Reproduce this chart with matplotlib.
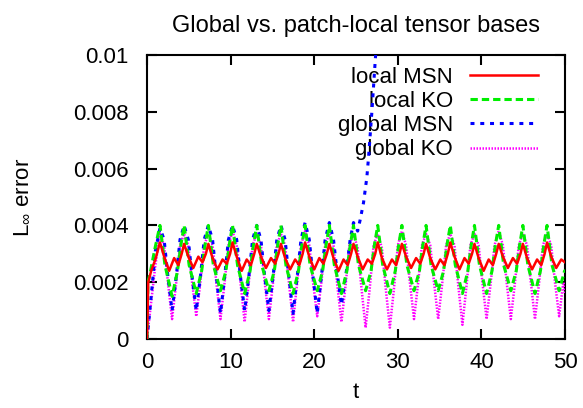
import matplotlib
matplotlib.use("Agg")
import matplotlib.pyplot as plt
from matplotlib.ticker import FixedLocator, FixedFormatter

plt.rcParams['font.family'] = ['Liberation Sans', 'DejaVu Sans']
plt.rcParams['mathtext.fontset'] = 'custom'
plt.rcParams['mathtext.rm'] = 'Liberation Sans'
plt.rcParams['mathtext.it'] = 'Liberation Sans'

title = "Global vs. patch-local tensor bases"
xlabel = "t"
ylabel = r"L$_\infty$ error"
labels = ["local MSN", "local KO", "global MSN", "global KO"]
xticks = [0, 10, 20, 30, 40, 50]
yticks = [0, 0.002, 0.004, 0.006, 0.008, 0.01]
yticklabels = ["0", "0.002", "0.004", "0.006", "0.008", "0.01"]

# local MSN
t_local_msn = [0, 0.15, 0.5, 1.0,
    1.55, 2.05, 2.65, 3.25, 3.75, 4.15,
    4.44, 4.94, 5.54, 6.14, 6.64, 7.04,
    7.34, 7.84, 8.44, 9.04, 9.54, 9.94,
    10.23, 10.73, 11.33, 11.93, 12.43, 12.83,
    13.13, 13.63, 14.23, 14.83, 15.33, 15.73,
    16.02, 16.52, 17.12, 17.72, 18.22, 18.62,
    18.91, 19.41, 20.01, 20.61, 21.11, 21.51,
    21.81, 22.31, 22.91, 23.51, 24.01, 24.41,
    24.70, 25.20, 25.80, 26.40, 26.90, 27.30,
    27.60, 28.10, 28.70, 29.30, 29.80, 30.20,
    30.49, 30.99, 31.59, 32.19, 32.69, 33.09,
    33.38, 33.88, 34.48, 35.08, 35.58, 35.98,
    36.28, 36.78, 37.38, 37.98, 38.48, 38.88,
    39.17, 39.67, 40.27, 40.87, 41.37, 41.77,
    42.07, 42.57, 43.17, 43.77, 44.27, 44.67,
    44.96, 45.46, 46.06, 46.66, 47.16, 47.56,
    47.85, 48.35, 48.95, 49.55, 50.0]
y_local_msn = [0, 0.0020, 0.0024, 0.0028,
    0.00340, 0.00290, 0.00240, 0.00285, 0.00260, 0.00300,
    0.00335, 0.00290, 0.00250, 0.00290, 0.00270, 0.00300,
    0.00335, 0.00285, 0.00245, 0.00280, 0.00265, 0.00300,
    0.00340, 0.00290, 0.00240, 0.00280, 0.00260, 0.00300,
    0.00335, 0.00290, 0.00250, 0.00285, 0.00265, 0.00300,
    0.00335, 0.00285, 0.00245, 0.00280, 0.00260, 0.00300,
    0.00340, 0.00290, 0.00245, 0.00285, 0.00265, 0.00300,
    0.00335, 0.00285, 0.00240, 0.00280, 0.00260, 0.00300,
    0.00335, 0.00290, 0.00245, 0.00280, 0.00265, 0.00300,
    0.00340, 0.00285, 0.00245, 0.00280, 0.00260, 0.00300,
    0.00335, 0.00290, 0.00250, 0.00285, 0.00265, 0.00300,
    0.00335, 0.00285, 0.00245, 0.00280, 0.00260, 0.00300,
    0.00340, 0.00290, 0.00245, 0.00285, 0.00265, 0.00300,
    0.00335, 0.00285, 0.00240, 0.00280, 0.00260, 0.00300,
    0.00335, 0.00290, 0.00250, 0.00285, 0.00265, 0.00300,
    0.00335, 0.00285, 0.00245, 0.00280, 0.00260, 0.00300,
    0.00340, 0.00290, 0.00250, 0.00280, 0.00270]

# local KO
t_local_ko = [0, 0.1, 0.36, 0.96,
    1.55, 2.15, 3.00, 3.65, 4.05,
    4.44, 5.04, 5.89, 6.54, 6.94,
    7.34, 7.94, 8.79, 9.44, 9.84,
    10.23, 10.83, 11.68, 12.33, 12.73,
    13.13, 13.73, 14.58, 15.23, 15.63,
    16.02, 16.62, 17.47, 18.12, 18.52,
    18.91, 19.51, 20.36, 21.01, 21.41,
    21.81, 22.41, 23.26, 23.91, 24.31,
    24.70, 25.30, 26.15, 26.80, 27.20,
    27.60, 28.20, 29.05, 29.70, 30.10,
    30.49, 31.09, 31.94, 32.59, 32.99,
    33.38, 33.98, 34.83, 35.48, 35.88,
    36.28, 36.88, 37.73, 38.38, 38.78,
    39.17, 39.77, 40.62, 41.27, 41.67,
    42.07, 42.67, 43.52, 44.17, 44.57,
    44.96, 45.56, 46.41, 47.06, 47.46,
    47.85, 48.45, 49.30, 49.95, 50.0]
y_local_ko = [0, 0.0020, 0.0023, 0.0032,
    0.0040, 0.0026, 0.0015, 0.0024, 0.0033,
    0.0040, 0.0026, 0.0016, 0.0024, 0.0033,
    0.0040, 0.0026, 0.0017, 0.0024, 0.0033,
    0.0040, 0.0026, 0.0016, 0.0024, 0.0033,
    0.0040, 0.0026, 0.0017, 0.0024, 0.0033,
    0.0040, 0.0026, 0.0016, 0.0024, 0.0033,
    0.0040, 0.0026, 0.0017, 0.0024, 0.0033,
    0.0040, 0.0026, 0.0016, 0.0024, 0.0033,
    0.0040, 0.0026, 0.0017, 0.0024, 0.0033,
    0.0040, 0.0026, 0.0016, 0.0024, 0.0033,
    0.0040, 0.0026, 0.0017, 0.0024, 0.0033,
    0.0040, 0.0026, 0.0017, 0.0024, 0.0033,
    0.0040, 0.0026, 0.0016, 0.0024, 0.0033,
    0.0040, 0.0026, 0.0016, 0.0024, 0.0033,
    0.0040, 0.0026, 0.0017, 0.0024, 0.0033,
    0.0040, 0.0026, 0.0016, 0.0024, 0.0033,
    0.0040, 0.0026, 0.0017, 0.0024, 0.0024]

# global MSN
t_global_msn = [0, 0.5, 1.0,
    1.55, 2.05, 2.50, 3.00, 3.50, 3.95,
    4.44, 4.94, 5.39, 5.89, 6.39, 6.84,
    7.34, 7.84, 8.29, 8.79, 9.29, 9.74,
    10.23, 10.73, 11.18, 11.68, 12.18, 12.63,
    13.13, 13.63, 14.08, 14.58, 15.08, 15.53,
    16.02, 16.52, 16.97, 17.47, 17.97, 18.42,
    18.91, 19.41, 19.86, 20.36, 20.86, 21.31,
    21.81, 22.31, 22.76, 23.26, 23.90, 24.30,
    24.70, 25.20, 25.50, 25.90, 26.30, 26.50,
    26.70, 26.90, 27.10, 27.30, 27.50]
y_global_msn = [0, 0.0015, 0.0031,
    0.0039, 0.0035, 0.0022, 0.0010, 0.0022, 0.0035,
    0.0040, 0.0035, 0.0022, 0.0010, 0.0022, 0.0035,
    0.0040, 0.0035, 0.0022, 0.0009, 0.0022, 0.0035,
    0.0040, 0.0035, 0.0022, 0.0010, 0.0022, 0.0035,
    0.0040, 0.0035, 0.0022, 0.0010, 0.0022, 0.0035,
    0.0040, 0.0035, 0.0022, 0.0009, 0.0022, 0.0035,
    0.0041, 0.0035, 0.0022, 0.0009, 0.0022, 0.0035,
    0.0041, 0.0035, 0.0023, 0.0012, 0.0025, 0.0035,
    0.0041, 0.0038, 0.0042, 0.0048, 0.0057, 0.0064,
    0.0072, 0.0080, 0.0089, 0.0098, 0.0106]

# global KO
t_global_ko = [0, 1.0,
    1.55, 2.05, 2.50, 3.00, 3.50, 3.95,
    4.44, 4.94, 5.39, 5.89, 6.39, 6.84,
    7.34, 7.84, 8.29, 8.79, 9.29, 9.74,
    10.23, 10.73, 11.18, 11.68, 12.18, 12.63,
    13.13, 13.63, 14.08, 14.58, 15.08, 15.53,
    16.02, 16.52, 16.97, 17.47, 17.97, 18.42,
    18.91, 19.41, 19.86, 20.36, 20.86, 21.31,
    21.81, 22.31, 22.76, 23.26, 23.76, 24.21,
    24.70, 25.20, 25.65, 26.15, 26.65, 27.10,
    27.60, 28.10, 28.55, 29.05, 29.55, 30.00,
    30.49, 30.99, 31.44, 31.94, 32.44, 32.89,
    33.38, 33.88, 34.33, 34.83, 35.33, 35.78,
    36.28, 36.78, 37.23, 37.73, 38.23, 38.68,
    39.17, 39.67, 40.12, 40.62, 41.12, 41.57,
    42.07, 42.57, 43.02, 43.52, 44.02, 44.47,
    44.96, 45.46, 45.91, 46.41, 46.91, 47.36,
    47.85, 48.35, 48.80, 49.30, 49.80, 50.0]
y_global_ko = [0, 0.0026,
    0.0037, 0.0033, 0.0020, 0.0007, 0.0020, 0.0033,
    0.0037, 0.0033, 0.0020, 0.0008, 0.0020, 0.0033,
    0.0037, 0.0033, 0.0020, 0.0007, 0.0020, 0.0033,
    0.0038, 0.0033, 0.0020, 0.0006, 0.0020, 0.0033,
    0.0037, 0.0033, 0.0020, 0.0007, 0.0020, 0.0033,
    0.0037, 0.0033, 0.0020, 0.0006, 0.0020, 0.0033,
    0.0038, 0.0033, 0.0020, 0.0008, 0.0020, 0.0033,
    0.0037, 0.0033, 0.0019, 0.0006, 0.0019, 0.0033,
    0.0037, 0.0032, 0.0018, 0.0004, 0.0018, 0.0033,
    0.0037, 0.0032, 0.0018, 0.0004, 0.0018, 0.0033,
    0.0038, 0.0033, 0.0020, 0.0007, 0.0020, 0.0033,
    0.0037, 0.0033, 0.0020, 0.0007, 0.0020, 0.0033,
    0.0037, 0.0033, 0.0019, 0.0005, 0.0019, 0.0033,
    0.0037, 0.0033, 0.0020, 0.0007, 0.0020, 0.0033,
    0.0038, 0.0033, 0.0020, 0.0007, 0.0020, 0.0033,
    0.0037, 0.0033, 0.0020, 0.0007, 0.0020, 0.0033,
    0.0037, 0.0033, 0.0020, 0.0008, 0.0020, 0.0016]

FS = 16
fig = plt.figure(figsize=(5.83, 4.08), dpi=100)
ax = fig.add_axes([147/583, 1 - 339/408, 418/583, 284/408])

l4, = ax.plot(t_global_ko, y_global_ko, color='#ff00ff', lw=1.8,
              dashes=(0.6, 0.6), zorder=3, label=labels[3])
l3, = ax.plot(t_global_msn, y_global_msn, color='#0000ff', lw=2.2,
              dashes=(1.3, 1.9), zorder=4, label=labels[2])
l2, = ax.plot(t_local_ko, y_local_ko, color='#00ee00', lw=2.2,
              dashes=(2.4, 1.3), zorder=5, label=labels[1])
l1, = ax.plot(t_local_msn, y_local_msn, color='#ff0000', lw=1.8,
              zorder=6, label=labels[0])

ax.set_xlim(0, 50)
ax.set_ylim(0, 0.01)
ax.xaxis.set_major_locator(FixedLocator(xticks))
ax.yaxis.set_major_locator(FixedLocator(yticks))
ax.yaxis.set_major_formatter(FixedFormatter(yticklabels))
ax.tick_params(direction='in', length=7, width=1.5, top=True, right=True,
               labelsize=FS)
ax.tick_params(axis='y', pad=13)
ax.tick_params(axis='x', pad=9)
for s in ax.spines.values():
    s.set_linewidth(1.5)

fig.text(356/583, 1 - 26/408, title, ha='center', va='center', fontsize=17)
fig.text(356/583, 1 - 392/408, xlabel, ha='center', va='center', fontsize=FS)
fig.text(22/583, 1 - 197/408, ylabel, ha='center', va='center',
         rotation=90, fontsize=FS)

leg = ax.legend([l1, l2, l3, l4], labels, loc='upper right',
                bbox_to_anchor=((538 - 147) / 418, (339 - 67) / 284),
                frameon=False, markerfirst=False, fontsize=FS,
                handlelength=3.06, handletextpad=0.76, labelspacing=0.14,
                borderpad=0, borderaxespad=0)
leg.set_zorder(1)

fig.savefig('out.png', dpi=100)
